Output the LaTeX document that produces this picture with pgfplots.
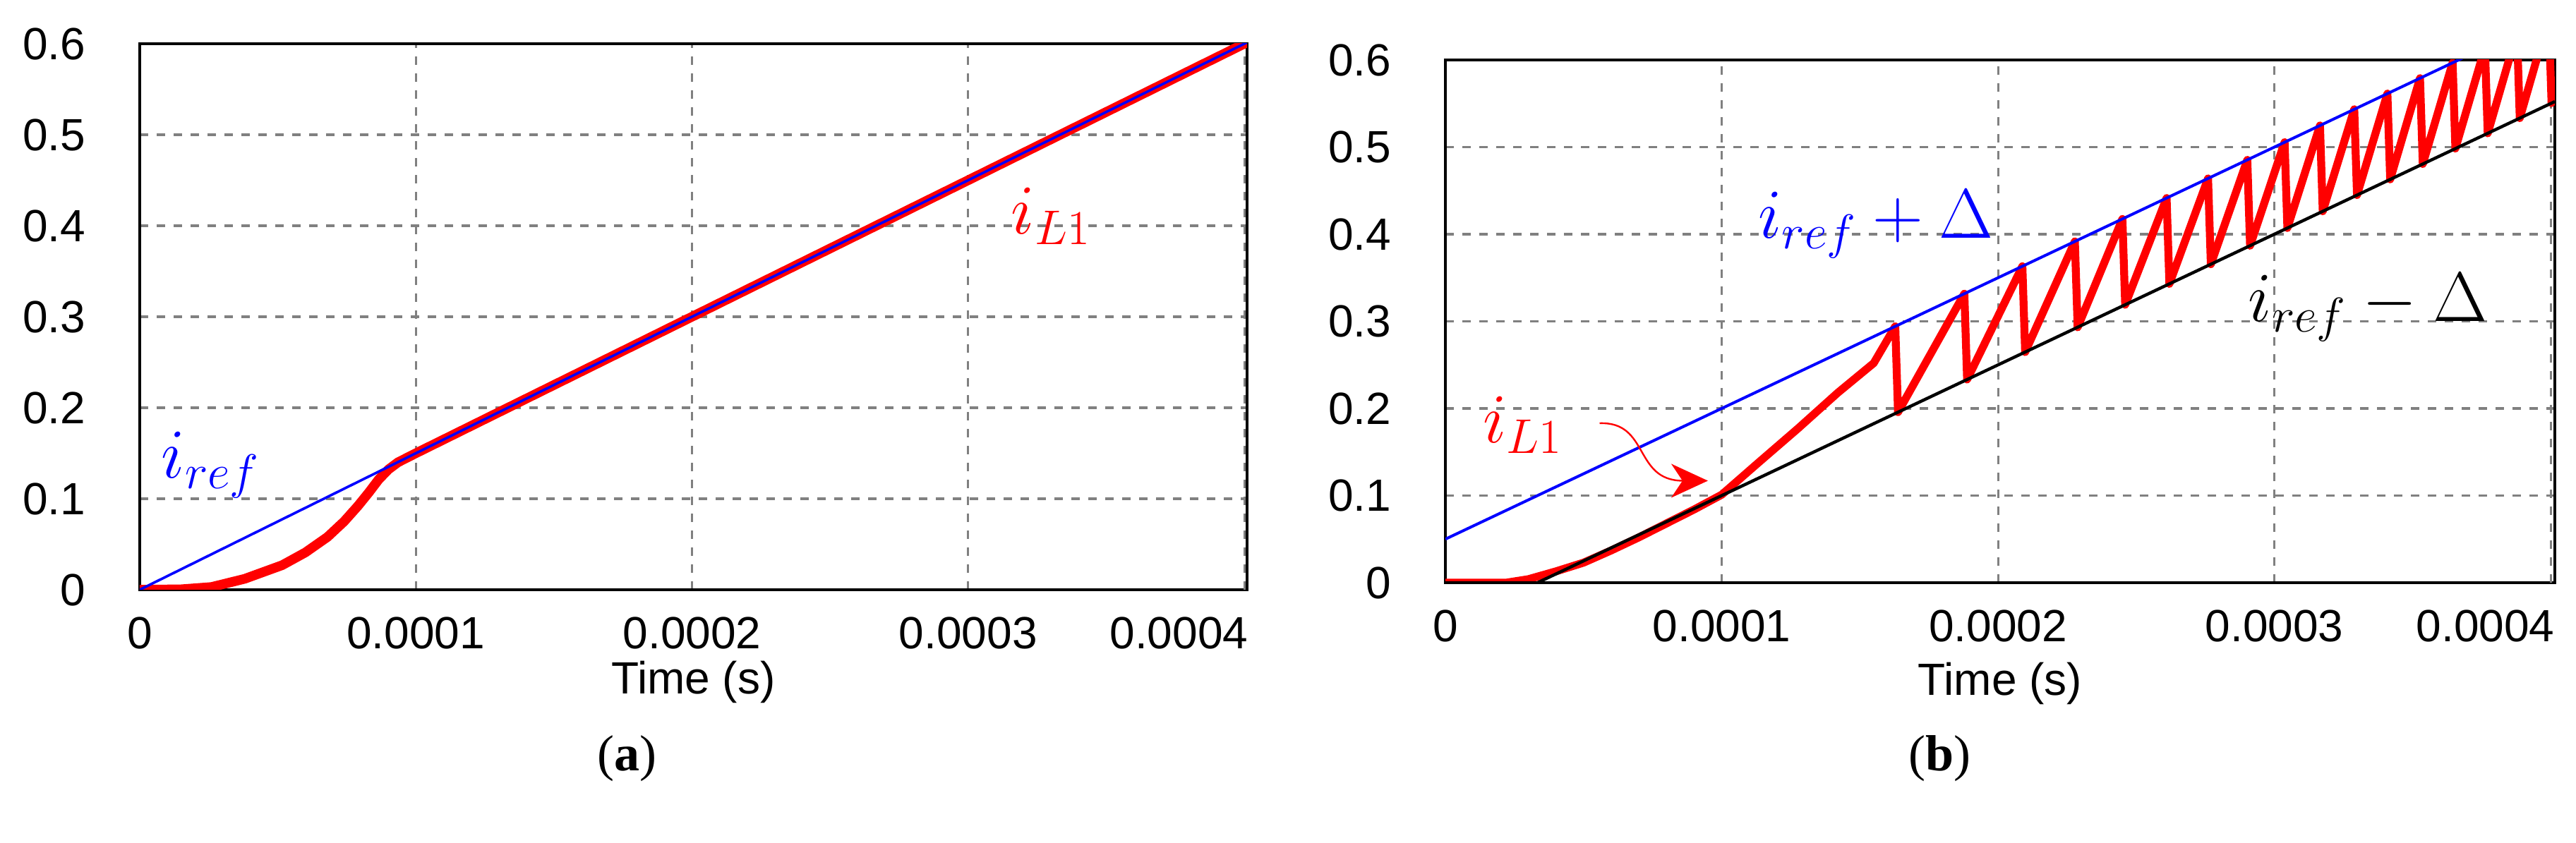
\documentclass[border=0pt]{standalone}
\usepackage{fontspec}
\usepackage{pgfplots}
\pgfplotsset{compat=1.18}
\usetikzlibrary{arrows.meta}
\newfontfamily\tickfont{Liberation Sans}
\newfontfamily\capfont{Liberation Serif}

\pgfplotsset{
  psim/.style={
    scale only axis,
    xmin=0, ymin=0, ymax=0.6,
    axis line style={black, line width=0.8pt},
    grid=major,
    major grid style={gray, line width=0.8pt, dash pattern=on 3pt off 3pt},
    major tick length=0pt,
    ytick={0,0.1,0.2,0.3,0.4,0.5,0.6},
    yticklabels={0,0.1,0.2,0.3,0.4,0.5,0.6},
    xtick={0,0.0001,0.0002,0.0003},
    xticklabels={0,0.0001,0.0002,0.0003},
    extra x ticks={0.0004},
    extra x tick labels={0.0004},
    extra x tick style={xticklabel style={anchor=north east, xshift=1.5pt}},
    scaled x ticks=false,
    tick label style={font=\tickfont\fontsize{16}{19}\selectfont, inner sep=0pt},
    yticklabel style={xshift=-19pt},
    xticklabel style={yshift=-9.5pt},
    xlabel={Time (s)},
    xlabel style={font=\tickfont\fontsize{16}{19}\selectfont, inner sep=0pt,
      at={(axis description cs:0.5,0)}, anchor=north},
    no markers,
  }
}

\begin{document}
\begin{tikzpicture}
\path[use as bounding box] (0,0) rectangle (912.5pt,298.75pt);

% (a)
\begin{axis}[psim,
  at={(49.5pt,89.75pt)}, anchor=south west,
  width=392.25pt, height=193.5pt,
  xmax=0.000401,
  xlabel style={yshift=-25pt},
]
\addplot[red, line width=3.4pt, line join=round] coordinates {
  (0,0) (0.000015,0.0005) (0.000026,0.003) (0.000038,0.012)
  (0.0000516,0.027) (0.00006,0.041) (0.000068,0.058) (0.000074,0.075)
  (0.000079,0.092) (0.000083,0.107) (0.0000865,0.121) (0.00009,0.132)
  (0.0000935,0.140) (0.0001,0.15) (0.0002,0.3) (0.0003,0.45) (0.000401,0.6015)
};
\addplot[blue, line width=0.9pt] coordinates {(0,0) (0.000401,0.6015)};
\node[blue, anchor=base west, inner sep=0pt, font=\fontsize{26}{30}\selectfont]
  at (axis cs:0.0000077,0.1225) {$i_{ref}$};
\node[red, anchor=base west, inner sep=0pt, font=\fontsize{26}{30}\selectfont]
  at (axis cs:0.0003154,0.3907) {$i_{L1}$};
\end{axis}

% (b)
\begin{axis}[psim,
  at={(512pt,92.25pt)}, anchor=south west,
  width=393pt, height=185.25pt,
  xmax=0.0004015,
  xlabel style={yshift=-28pt},
]
\addplot[red, line width=2.8pt, line join=round] coordinates {
  (0,0) (0.000022,0) (0.00003,0.004) (0.00004,0.013) (0.00005,0.023)
  (0.00006,0.037) (0.00007,0.052) (0.00008,0.068) (0.00009,0.084)
  (0.0001,0.101) (0.000113,0.137) (0.0001276,0.177) (0.000142,0.218)
  (0.000155,0.252)
  (0.0001628,0.2942) (0.0001638,0.1957)
  (0.0001878,0.3317) (0.0001888,0.2332)
  (0.0002088,0.3632) (0.0002098,0.2647)
  (0.0002278,0.3917) (0.0002288,0.2932)
  (0.0002450,0.4175) (0.0002460,0.3190)
  (0.0002610,0.4415) (0.0002620,0.3430)
  (0.0002760,0.4640) (0.0002770,0.3655)
  (0.0002902,0.4853) (0.0002912,0.3868)
  (0.0003037,0.5056) (0.0003047,0.4071)
  (0.0003165,0.5248) (0.0003175,0.4263)
  (0.0003289,0.5434) (0.0003299,0.4449)
  (0.0003409,0.5614) (0.0003419,0.4629)
  (0.0003527,0.5791) (0.0003537,0.4806)
  (0.0003645,0.5968) (0.0003655,0.4983)
  (0.0003762,0.6143) (0.0003772,0.5158)
  (0.0003878,0.6317) (0.0003888,0.5332)
  (0.0003993,0.6490) (0.0004003,0.5505)
  (0.00041,0.657)
};
\addplot[blue, line width=1pt] coordinates {(0,0.05) (0.0004015,0.65225)};
\addplot[black, line width=1.1pt] coordinates {(0,0) (0.00003333,0) (0.0004015,0.55225)};
\node[blue, anchor=base west, inner sep=0pt, font=\fontsize{26}{30}\selectfont]
  at (axis cs:0.0001131,0.3955) {$i_{ref}+\Delta$};
\node[black, anchor=base west, inner sep=0pt, font=\fontsize{26}{30}\selectfont]
  at (axis cs:0.0002904,0.2996) {$i_{ref}-\Delta$};
\node[red, anchor=base west, inner sep=0pt, font=\fontsize{26}{30}\selectfont]
  at (axis cs:0.0000135,0.161) {$i_{L1}$};
\draw[red, line width=0.6pt, -{Stealth[length=13pt, width=12pt, inset=4pt]}]
  (axis cs:0.0000558,0.183) .. controls (axis cs:0.000074,0.185) and (axis cs:0.000068,0.117)
  .. (axis cs:0.000095,0.117);
\end{axis}

\node[font=\capfont\fontsize{18}{22}\selectfont] at (222pt,30pt) {(\textbf{a})};
\node[font=\capfont\fontsize{18}{22}\selectfont] at (687pt,30pt) {(\textbf{b})};
\end{tikzpicture}
\end{document}
